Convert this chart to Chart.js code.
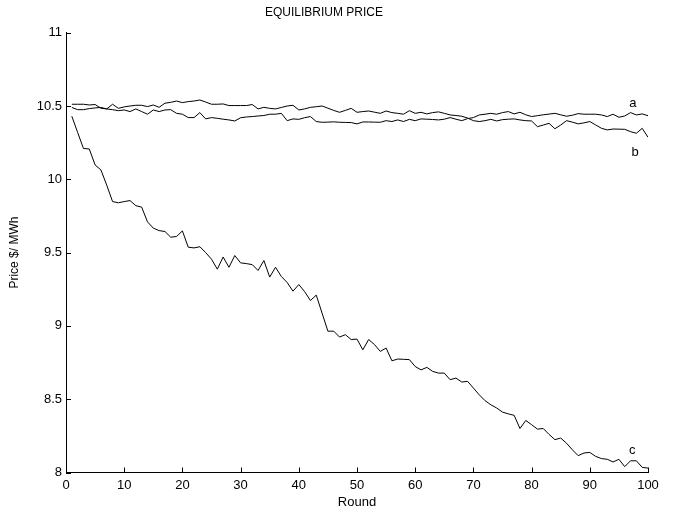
<!DOCTYPE html>
<html>
<head>
<meta charset="utf-8">
<script src="https://cdn.jsdelivr.net/npm/chart.js@4.4.0/dist/chart.umd.min.js"></script>
<style>
  html, body { margin: 0; padding: 0; background: #fff; }
</style>
</head>
<body>
<canvas id="chart" width="673" height="511"></canvas>
<script>
// round numbers 1..100
const rounds = [
  1,2,3,4,5,6,7,8,9,10,11,12,13,14,15,16,17,18,19,20,
  21,22,23,24,25,26,27,28,29,30,31,32,33,34,35,36,37,38,39,40,
  41,42,43,44,45,46,47,48,49,50,51,52,53,54,55,56,57,58,59,60,
  61,62,63,64,65,66,67,68,69,70,71,72,73,74,75,76,77,78,79,80,
  81,82,83,84,85,86,87,88,89,90,91,92,93,94,95,96,97,98,99,100
];

const priceA = [
  10.490,10.475,10.475,10.482,10.487,10.490,10.480,10.475,10.468,10.473,
  10.462,10.480,10.462,10.444,10.473,10.462,10.473,10.475,10.450,10.444,
  10.421,10.421,10.455,10.412,10.421,10.416,10.410,10.405,10.398,10.420,
  10.425,10.428,10.432,10.435,10.444,10.444,10.450,10.400,10.412,10.409,
  10.420,10.428,10.394,10.389,10.390,10.392,10.389,10.388,10.387,10.378,
  10.391,10.391,10.390,10.389,10.400,10.394,10.405,10.394,10.409,10.400,
  10.412,10.410,10.408,10.405,10.410,10.421,10.410,10.400,10.414,10.421,
  10.439,10.444,10.450,10.444,10.455,10.462,10.446,10.457,10.440,10.428,
  10.434,10.440,10.445,10.450,10.440,10.430,10.437,10.448,10.444,10.444,
  10.444,10.439,10.428,10.444,10.423,10.432,10.455,10.439,10.446,10.434
];

const priceB = [
  10.512,10.512,10.512,10.507,10.510,10.485,10.480,10.512,10.484,10.494,
  10.500,10.505,10.505,10.496,10.507,10.491,10.519,10.525,10.534,10.523,
  10.530,10.534,10.541,10.527,10.512,10.512,10.514,10.503,10.503,10.503,
  10.503,10.510,10.480,10.491,10.484,10.480,10.490,10.500,10.505,10.473,
  10.480,10.491,10.495,10.500,10.485,10.470,10.457,10.470,10.484,10.457,
  10.462,10.466,10.458,10.450,10.466,10.455,10.450,10.444,10.468,10.450,
  10.457,10.446,10.455,10.460,10.450,10.439,10.435,10.430,10.418,10.400,
  10.394,10.400,10.409,10.398,10.407,10.410,10.412,10.405,10.400,10.398,
  10.359,10.370,10.382,10.345,10.370,10.400,10.390,10.378,10.385,10.394,
  10.371,10.348,10.337,10.343,10.342,10.341,10.325,10.314,10.348,10.287
];

const priceC = [
  10.430,10.320,10.210,10.207,10.098,10.064,9.960,9.848,9.840,9.848,
  9.855,9.820,9.810,9.710,9.667,9.650,9.644,9.605,9.610,9.648,
  9.537,9.532,9.540,9.500,9.455,9.387,9.470,9.400,9.480,9.430,
  9.425,9.418,9.378,9.446,9.333,9.400,9.337,9.296,9.237,9.282,
  9.234,9.173,9.210,9.087,8.964,8.964,8.924,8.940,8.907,8.910,
  8.837,8.907,8.873,8.826,8.849,8.762,8.774,8.772,8.770,8.723,
  8.700,8.717,8.690,8.678,8.678,8.633,8.644,8.617,8.622,8.576,
  8.530,8.490,8.462,8.440,8.412,8.400,8.390,8.300,8.355,8.326,
  8.296,8.300,8.260,8.224,8.235,8.200,8.155,8.115,8.133,8.137,
  8.110,8.095,8.090,8.072,8.090,8.040,8.080,8.080,8.035,8.030
];

const xTickValues = [0,10,20,30,40,50,60,70,80,90,100];
const yTickValues = [8,8.5,9,9.5,10,10.5,11];

// curve tags: [text, round, price]
const curveTags = [
  ['a', 97.4, 10.52],
  ['b', 97.8, 10.18],
  ['c', 97.3, 8.15]
];

const FONT = 'Liberation Sans, Arial, Helvetica, sans-serif';

function toPoints(vals) {
  return vals.map((v, i) => ({ x: rounds[i], y: v }));
}

// ticks drawn inward, plus the a/b/c tags
const innerTicks = {
  id: 'innerTicks',
  afterDraw(chart) {
    const { ctx, chartArea, scales } = chart;
    ctx.save();
    ctx.strokeStyle = '#000';
    ctx.lineWidth = 1;
    ctx.beginPath();
    xTickValues.forEach(v => {
      const px = Math.round(scales.x.getPixelForValue(v)) + 0.5;
      ctx.moveTo(px, chartArea.bottom);
      ctx.lineTo(px, chartArea.bottom - 5);
    });
    yTickValues.forEach(v => {
      const py = Math.round(scales.y.getPixelForValue(v)) + 0.5;
      ctx.moveTo(chartArea.left, py);
      ctx.lineTo(chartArea.left + 5, py);
    });
    ctx.stroke();

    ctx.fillStyle = '#000';
    ctx.font = '13px ' + FONT;
    ctx.textAlign = 'center';
    ctx.textBaseline = 'middle';
    curveTags.forEach(([t, x, y]) => {
      ctx.fillText(t, scales.x.getPixelForValue(x), scales.y.getPixelForValue(y));
    });
    ctx.restore();
  }
};

const lineStyle = {
  borderColor: '#000',
  borderWidth: 1,
  pointRadius: 0,
  fill: false,
  tension: 0
};

new Chart(document.getElementById('chart'), {
  type: 'line',
  data: {
    datasets: [
      { label: 'a', data: toPoints(priceA), ...lineStyle },
      { label: 'b', data: toPoints(priceB), ...lineStyle },
      { label: 'c', data: toPoints(priceC), ...lineStyle }
    ]
  },
  options: {
    responsive: false,
    animation: false,
    devicePixelRatio: 1,
    layout: { padding: { left: 0, right: 25, top: 0, bottom: 0 } },
    plugins: {
      legend: { display: false },
      tooltip: { enabled: false },
      title: {
        display: true,
        text: 'EQUILIBRIUM PRICE',
        color: '#000',
        font: { family: FONT, size: 12, weight: 'normal' },
        padding: { top: 5, bottom: 13.3 }
      }
    },
    scales: {
      x: {
        type: 'linear',
        min: 0,
        max: 100,
        afterBuildTicks(scale) { scale.ticks = xTickValues.map(v => ({ value: v })); },
        afterFit(scale) { scale.height = 38.5; },
        grid: { display: false, drawTicks: false, tickLength: 0 },
        border: { display: true, color: '#000', width: 1 },
        ticks: {
          color: '#000',
          font: { family: FONT, size: 13 },
          padding: 5,
          maxRotation: 0,
          callback: v => String(v)
        },
        title: {
          display: true,
          text: 'Round',
          color: '#000',
          font: { family: FONT, size: 13 },
          padding: { top: 0, bottom: 1 }
        }
      },
      y: {
        type: 'linear',
        min: 8,
        max: 11,
        afterBuildTicks(scale) { scale.ticks = yTickValues.map(v => ({ value: v })); },
        afterFit(scale) { scale.width = 66; },
        grid: { display: false, drawTicks: false, tickLength: 0 },
        border: { display: true, color: '#000', width: 1 },
        ticks: {
          color: '#000',
          font: { family: FONT, size: 13 },
          padding: 4,
          callback: v => String(v)
        },
        title: {
          display: true,
          text: 'Price $/ MWh',
          color: '#000',
          font: { family: FONT, size: 12 },
          padding: { top: 7, bottom: 0 }
        }
      }
    }
  },
  plugins: [innerTicks]
});
</script>
</body>
</html>
